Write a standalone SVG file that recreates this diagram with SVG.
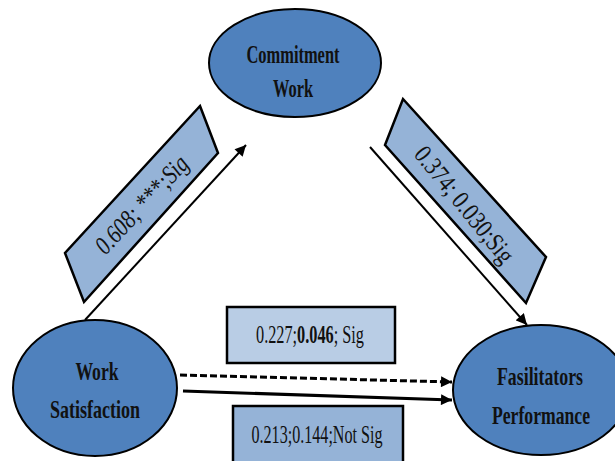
<svg xmlns="http://www.w3.org/2000/svg" width="615" height="461" viewBox="0 0 615 461">
  <style>
    .node { fill: #4f81bd; stroke: #000; stroke-width: 2; }
    .ntext { font-family: "Liberation Serif", "Times New Roman", serif; font-weight: bold; font-size: 26px; fill: #111; text-anchor: middle; }
    .tag { stroke: #000; stroke-width: 2.5; stroke-linejoin: miter; }
    .tag-dark { fill: #95b3d7; }
    .tag-light { fill: #b9cde5; }
    .ltext { font-family: "Liberation Serif", "Times New Roman", serif; font-size: 26px; fill: #111; text-anchor: middle; }
    .ltext.start { text-anchor: start; }
    .edge { fill: none; stroke: #000; }
  </style>
  <defs>
    <marker id="head" viewBox="0 0 10 10" refX="10" refY="5" markerWidth="12" markerHeight="11" markerUnits="userSpaceOnUse" orient="auto">
      <path d="M0,0 L10,5 L0,10 z" fill="#000"/>
    </marker>
  </defs>

  <rect width="615" height="461" fill="#fff"/>

  <!-- path coefficients -->
  <g id="labels">
    <g id="label-ws-cw">
      <polygon class="tag tag-dark" points="200,106 218,153 84,302 65,253"/>
      <text class="ltext" font-style="italic" font-size="24" transform="translate(142,205) rotate(-47)" y="8" textLength="124" lengthAdjust="spacingAndGlyphs">0.608; ***;Sig</text>
    </g>
    <g id="label-cw-fp">
      <polygon class="tag tag-dark" points="403,99 546,257 526,303 385,145"/>
      <text class="ltext" font-size="24" transform="translate(464,205) rotate(51)" y="8" textLength="142" lengthAdjust="spacingAndGlyphs">0.374; 0.030;Sig</text>
    </g>
    <g id="label-indirect">
      <rect class="tag tag-light" x="227" y="307" width="168" height="56" stroke-width="3"/>
      <text class="ltext start" x="256" y="343" textLength="108" lengthAdjust="spacingAndGlyphs">0.227;<tspan font-weight="bold">0.046</tspan>; Sig</text>
    </g>
    <g id="label-direct">
      <rect class="tag tag-dark" x="233" y="406" width="170" height="70" stroke-width="3"/>
      <text class="ltext" x="317" y="443" textLength="131" lengthAdjust="spacingAndGlyphs">0.213;0.144;Not Sig</text>
    </g>
  </g>

  <!-- connectors -->
  <g id="connectors">
    <line class="edge" x1="85" y1="320" x2="246" y2="145" stroke-width="2" marker-end="url(#head)"/>
    <line class="edge" x1="370" y1="147" x2="527" y2="325" stroke-width="2" marker-end="url(#head)"/>
    <line class="edge" x1="180" y1="375" x2="452" y2="382" stroke-width="3" stroke-dasharray="7 3" marker-end="url(#head)"/>
    <line class="edge" x1="183" y1="391" x2="452" y2="400" stroke-width="3" marker-end="url(#head)"/>
  </g>

  <!-- constructs -->
  <g id="commitment-work">
    <ellipse class="node" cx="295" cy="63" rx="86" ry="54"/>
    <text class="ntext" x="293" y="63" textLength="93" lengthAdjust="spacingAndGlyphs">Commitment</text>
    <text class="ntext" x="293" y="97" textLength="40" lengthAdjust="spacingAndGlyphs">Work</text>
  </g>
  <g id="work-satisfaction">
    <ellipse class="node" cx="95" cy="388" rx="82" ry="68"/>
    <text class="ntext" x="97" y="380" textLength="43" lengthAdjust="spacingAndGlyphs">Work</text>
    <text class="ntext" x="95" y="418" textLength="90" lengthAdjust="spacingAndGlyphs">Satisfaction</text>
  </g>
  <g id="fasilitators-performance">
    <ellipse class="node" cx="541" cy="390" rx="88" ry="65"/>
    <text class="ntext" x="540" y="385" textLength="86" lengthAdjust="spacingAndGlyphs">Fasilitators</text>
    <text class="ntext" x="541" y="424" textLength="98" lengthAdjust="spacingAndGlyphs">Performance</text>
  </g>
</svg>
